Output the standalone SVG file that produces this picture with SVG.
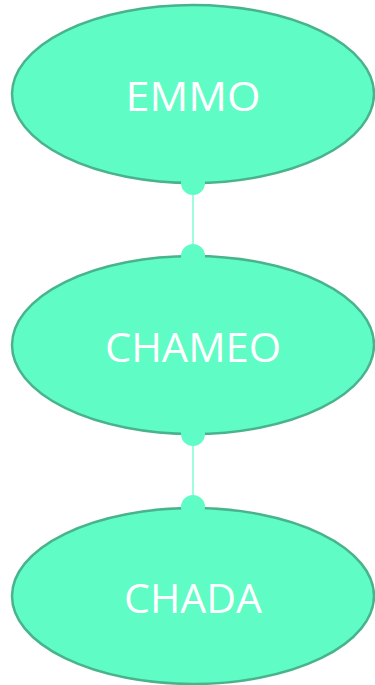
<svg xmlns="http://www.w3.org/2000/svg" width="375" height="685" viewBox="0 0 375 685">
<style>
.node ellipse{fill:#60fcc6;stroke:#48b38d;stroke-width:2.5}
.node text{fill:#ffffff;font-family:"Open Sans","Liberation Sans",sans-serif;font-size:40px;text-anchor:middle}
.edge line{stroke:#60fcc6;stroke-width:1.2}
.edge circle{fill:#60fcc6}
</style>
<rect width="375" height="685" fill="#ffffff"/>
<g id="node-emmo" class="node">
<ellipse cx="193" cy="94" rx="181" ry="89"/>
<text x="193" y="111" textLength="135" lengthAdjust="spacingAndGlyphs">EMMO</text>
</g>
<g id="node-chameo" class="node">
<ellipse cx="193" cy="345" rx="181" ry="89"/>
<text x="193" y="362" textLength="176" lengthAdjust="spacingAndGlyphs">CHAMEO</text>
</g>
<g id="node-chada" class="node">
<ellipse cx="193" cy="596" rx="181" ry="88"/>
<text x="193" y="613" textLength="138" lengthAdjust="spacingAndGlyphs">CHADA</text>
</g>
<g id="connectors" class="edge">
<line x1="193" y1="183" x2="193" y2="256"/>
<circle cx="193" cy="183" r="12"/>
<circle cx="193" cy="256" r="12"/>
<line x1="193" y1="434" x2="193" y2="507"/>
<circle cx="193" cy="434" r="12"/>
<circle cx="193" cy="507" r="12"/>
</g>
</svg>
